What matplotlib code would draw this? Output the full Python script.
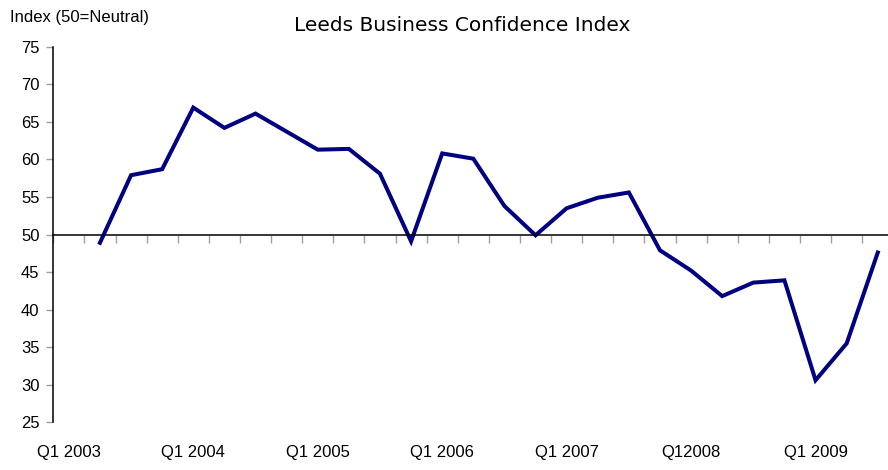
import numpy as np
import matplotlib.pyplot as plt

# quarterly index values, Q1 2003 has no reading
quarters = ["Q1 2003", "Q2 2003", "Q3 2003", "Q4 2003",
            "Q1 2004", "Q2 2004", "Q3 2004", "Q4 2004",
            "Q1 2005", "Q2 2005", "Q3 2005", "Q4 2005",
            "Q1 2006", "Q2 2006", "Q3 2006", "Q4 2006",
            "Q1 2007", "Q2 2007", "Q3 2007", "Q4 2007",
            "Q12008", "Q2 2008", "Q3 2008", "Q4 2008",
            "Q1 2009", "Q2 2009", "Q3 2009"]
index = [np.nan, 48.9, 57.9, 58.7, 66.9, 64.2, 66.1, 63.7, 61.3, 61.4, 58.1,
         49.1, 60.8, 60.1, 53.8, 49.9, 53.5, 54.9, 55.6, 47.9, 45.2, 41.8,
         43.6, 43.9, 30.6, 35.5, 47.6]
shown_labels = ["Q1 2003", "Q1 2004", "Q1 2005", "Q1 2006", "Q1 2007", "Q12008", "Q1 2009"]

label_font = ["Liberation Sans", "DejaVu Sans"]

fig = plt.figure(figsize=(8.88, 4.70), dpi=100)
ax = fig.add_axes([0.060, 0.1015, 0.946, 0.799])

x = np.arange(len(quarters))
ax.plot(x, index, color="#000080", lw=2.9, solid_joinstyle="miter")

ax.set_xlim(-0.5, len(quarters) - 0.5)
ax.set_ylim(25, 75)
ax.set_yticks(np.arange(25, 80, 5))
for lab in ax.get_yticklabels():
    lab.set_family(label_font)
    lab.set_fontsize(12)
ax.tick_params(axis="y", length=5, width=1, color="#a0a0a0", pad=5)

# category axis sits on the neutral line
ax.spines["bottom"].set_position(("data", 50))
ax.spines["bottom"].set_linewidth(1.1)
ax.spines["left"].set_linewidth(1.1)
ax.spines["top"].set_visible(False)
ax.spines["right"].set_visible(False)
ax.set_xticks([])
ax.set_xticks(np.arange(-0.5, len(quarters)), minor=True)
ax.tick_params(axis="x", which="minor", length=6, width=1, color="#a0a0a0",
               labelbottom=False)

sec = ax.secondary_xaxis(0)
sec.set_xticks([quarters.index(q) for q in shown_labels], shown_labels)
sec.tick_params(length=0, pad=16)
sec.spines["bottom"].set_visible(False)
for lab in sec.get_xticklabels():
    lab.set_family(label_font)
    lab.set_fontsize(12)

fig.text(0.521, 0.945, "Leeds Business Confidence Index", ha="center", va="center",
         fontsize=14.5, family="DejaVu Sans")
fig.text(0.011, 0.963, "Index (50=Neutral)", ha="left", va="center",
         fontsize=12, family=label_font)

fig.savefig("out.png", dpi=100)
